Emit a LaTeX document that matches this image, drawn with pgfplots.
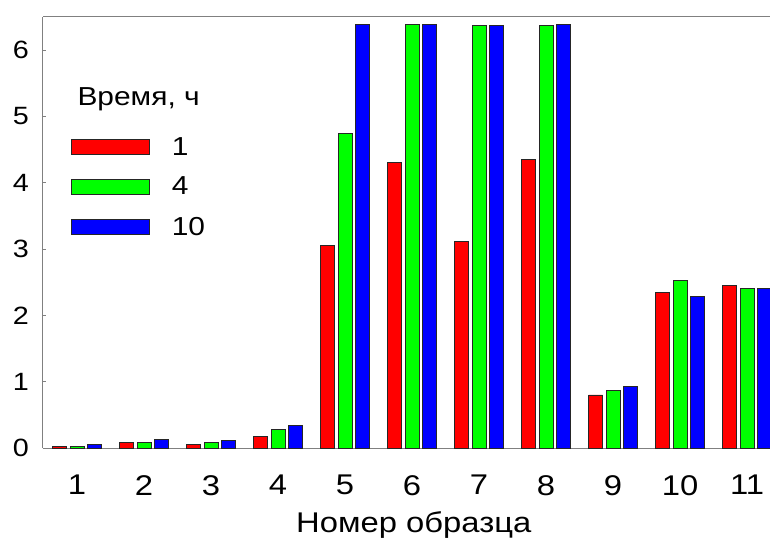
\documentclass[border=0pt]{standalone}
\usepackage{pgfplots}
\pgfplotsset{compat=1.18}
\usepackage{fontspec}
\setmainfont[FakeStretch=1.15]{Liberation Sans}

\definecolor{barred}{RGB}{255,0,0}
\definecolor{bargreen}{RGB}{0,255,0}
\definecolor{barblue}{RGB}{0,0,255}
\definecolor{axisgray}{RGB}{128,128,128}

\begin{document}
\begin{tikzpicture}
\begin{axis}[
  scale only axis,
  width=727pt, height=431pt,
  at={(0,0)}, anchor=south west,
  xmin=0.4925, xmax=11.343,
  ymin=0, ymax=6.5,
  axis x line=box, axis y line=left,
  axis line style={axisgray, line width=1pt, -},
  ybar=3.5pt, bar width=14pt,
  xtick={1,...,11},
  ytick={0,...,6},
  xtick style={draw=none},
  ytick style={axisgray, line width=1pt},
  tick align=inside, major tick length=3pt,
  /pgf/number format/assume math mode=true,
  yticklabel style={font=\fontsize{25}{29}\selectfont, inner sep=0pt, xshift=-14pt},
  xticklabel style={font=\fontsize{28.5}{32}\selectfont, inner sep=0pt, yshift=-27pt},
  xlabel={Номер образца},
  xlabel style={font=\fontsize{28.5}{33}\selectfont, inner sep=0pt,
    at={(axis description cs:0.510,0)}, anchor=base, yshift=-84pt},
  legend style={at={(axis cs:0.9075,4.69)}, anchor=north west, draw=none, fill=none,
    font=\fontsize{26}{30}\selectfont, row sep=20.5pt, column sep=22pt, inner sep=0pt,
    nodes={inner sep=0pt}},
  legend cell align=left,
  legend image code/.code={\draw[#1, draw=black!85, line width=0.8pt] (0pt,-7.5pt) rectangle (78pt,7.5pt);},
]
% exposure time 1 h
\addplot[fill=barred, draw=black!85, line width=0.8pt] coordinates {
  (1,0.02) (2,0.08) (3,0.06) (4,0.18) (5,3.06) (6,4.30)
  (7,3.11) (8,4.35) (9,0.80) (10,2.34) (11,2.45)};
% exposure time 4 h
\addplot[fill=bargreen, draw=black!85, line width=0.8pt] coordinates {
  (1,0.03) (2,0.09) (3,0.09) (4,0.28) (5,4.74) (6,6.39)
  (7,6.37) (8,6.37) (9,0.87) (10,2.53) (11,2.41)};
% exposure time 10 h
\addplot[fill=barblue, draw=black!85, line width=0.8pt] coordinates {
  (1,0.055) (2,0.125) (3,0.11) (4,0.34) (5,6.39) (6,6.39)
  (7,6.37) (8,6.39) (9,0.93) (10,2.28) (11,2.41)};
\legend{1,4,10}
\node[anchor=base west, font=\fontsize{26}{30}\selectfont, inner sep=0pt]
  at (axis cs:1.005,5.16) {Время, ч};
\end{axis}
\pgfresetboundingbox
\path[use as bounding box] (-43pt,-98pt) rectangle (727pt,448pt);
\end{tikzpicture}
\end{document}
